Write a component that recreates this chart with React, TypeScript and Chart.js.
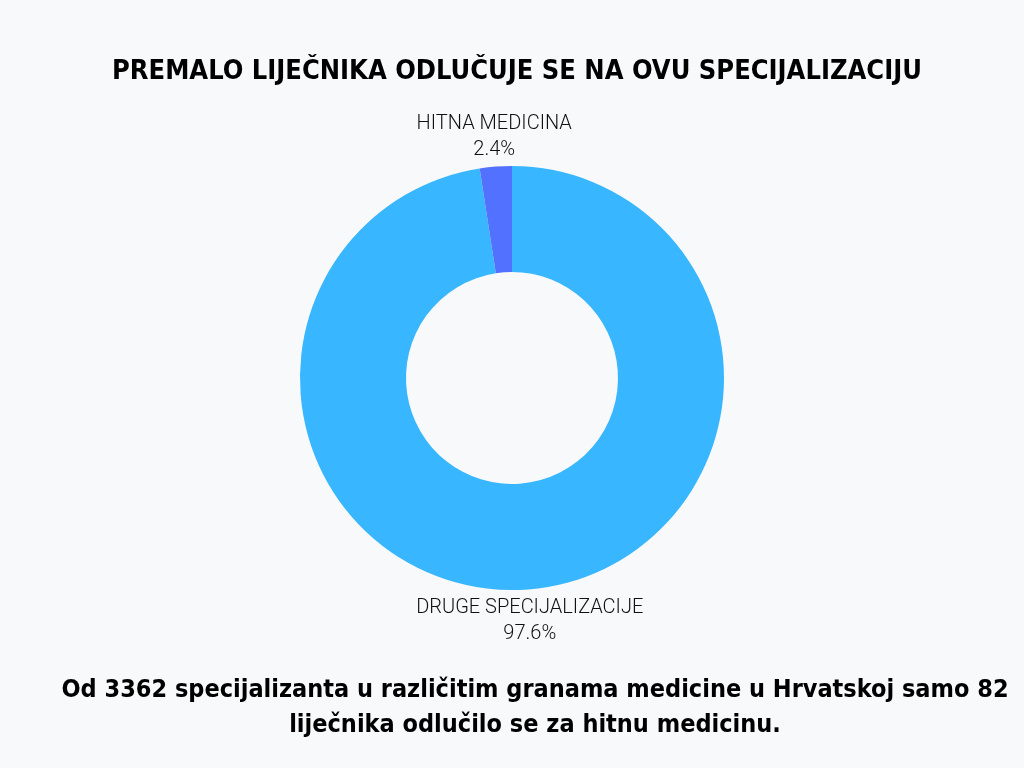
import React, { useEffect, useRef } from "react";
import { Chart, registerables } from "chart.js";

Chart.register(...registerables);

const categories = ["DRUGE SPECIJALIZACIJE", "HITNA MEDICINA"];
const counts = [3280, 82];
const colors = ["#38b6ff", "#5271ff"];
const titleText = "PREMALO LIJEČNIKA ODLUČUJE SE NA OVU SPECIJALIZACIJU";
const captionLines = [
  "Od 3362 specijalizanta u različitim granama medicine u Hrvatskoj samo 82",
  "liječnika odlučilo se za hitnu medicinu.",
];

const sliceLabels = {
  id: "sliceLabels",
  afterDatasetsDraw(chart: any) {
    const { ctx } = chart;
    const meta = chart.getDatasetMeta(0);
    const data = chart.data.datasets[0].data as number[];
    const total = data.reduce((a, b) => a + b, 0);
    ctx.save();
    ctx.font = "300 20px Roboto";
    ctx.fillStyle = "#111111";
    ctx.textAlign = "center";
    meta.data.forEach((arc: any, i: number) => {
      const { x, y, startAngle, endAngle, outerRadius } = arc.getProps(
        ["x", "y", "startAngle", "endAngle", "outerRadius"],
        true
      );
      const mid = (startAngle + endAngle) / 2;
      const r = outerRadius + 20;
      const lx = x + Math.cos(mid) * r;
      const up = Math.sin(mid) < 0;
      const pct = ((data[i] / total) * 100).toFixed(1) + "%";
      const name = chart.data.labels[i] as string;
      const lineH = 26;
      if (up) {
        const by = y - outerRadius - 8;
        ctx.textBaseline = "bottom";
        ctx.fillText(pct, lx, by + 2);
        ctx.fillText(name, lx, by + 2 - lineH);
      } else {
        const ty = y + outerRadius + 8;
        ctx.textBaseline = "top";
        ctx.fillText(name, lx, ty);
        ctx.fillText(pct, lx, ty + lineH);
      }
    });
    ctx.restore();
  },
};

const captionStyle: React.CSSProperties = {
  position: "absolute",
  left: 0,
  width: 1070,
  textAlign: "center",
  fontFamily: "'DejaVu Sans Condensed', sans-serif",
  fontStretch: "condensed",
  fontWeight: 700,
  fontSize: 25,
  lineHeight: "35px",
  color: "#000",
  whiteSpace: "nowrap",
};

export default function App() {
  const ref = useRef<HTMLCanvasElement>(null);
  useEffect(() => {
    document.body.style.margin = "0";
    const chart = new Chart(ref.current!, {
      type: "doughnut",
      data: {
        labels: categories,
        datasets: [
          {
            data: counts,
            backgroundColor: colors,
            borderWidth: 0,
          },
        ],
      },
      options: {
        animation: false,
        responsive: true,
        maintainAspectRatio: false,
        cutout: "50%",
        layout: { padding: { top: 166, bottom: 178, left: 300, right: 300 } },
        plugins: { legend: { display: false }, tooltip: { enabled: false } },
      },
      plugins: [sliceLabels],
    });
    return () => chart.destroy();
  }, []);

  return (
    <div
      style={{
        position: "relative",
        width: 1024,
        height: 768,
        background: "#f8f9fb",
        overflow: "hidden",
      }}
    >
      <div style={{ position: "absolute", left: 0, top: 0, width: 1024, height: 768 }}>
        <canvas ref={ref} />
      </div>
      <div
        style={{
          position: "absolute",
          left: 0,
          width: 1034,
          top: 54,
          textAlign: "center",
          fontFamily: "'Liberation Sans Narrow', 'DejaVu Sans Condensed', sans-serif",
          fontStretch: "condensed",
          fontWeight: 700,
          fontSize: 27,
          lineHeight: "32px",
          color: "#000",
          whiteSpace: "nowrap",
        }}
      >
        {titleText}
      </div>
      <div style={{ ...captionStyle, top: 671 }}>{captionLines[0]}</div>
      <div style={{ ...captionStyle, top: 706 }}>{captionLines[1]}</div>
    </div>
  );
}
